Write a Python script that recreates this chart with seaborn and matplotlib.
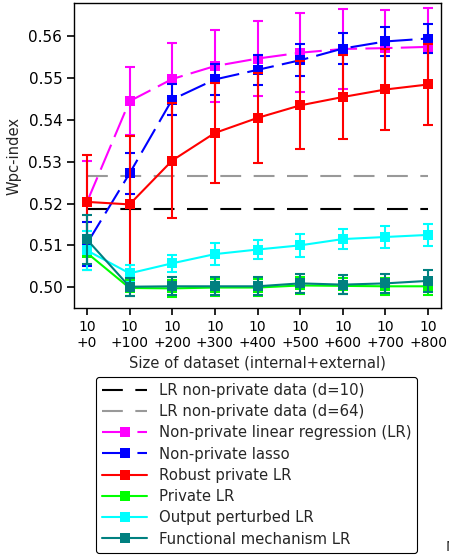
import numpy as np
import pandas as pd
import matplotlib
matplotlib.use("Agg")
import matplotlib.pyplot as plt
import seaborn as sns

# ---- data ----
x_labels = ["10\n+0", "10\n+100", "10\n+200", "10\n+300", "10\n+400",
            "10\n+500", "10\n+600", "10\n+700", "10\n+800"]
lr_d10 = 0.5186
lr_d64 = 0.5265
nonpriv_lr = [0.5203, 0.5445, 0.5498, 0.5529, 0.5547, 0.5561, 0.5570, 0.5572, 0.5575]
nonpriv_lr_err = [0.0100, 0.0082, 0.0087, 0.0087, 0.0090, 0.0095, 0.0095, 0.0092, 0.0093]
lasso = [0.5104, 0.5272, 0.5449, 0.5497, 0.5520, 0.5543, 0.5571, 0.5588, 0.5595]
lasso_err = [0.0053, 0.0050, 0.0037, 0.0038, 0.0036, 0.0038, 0.0038, 0.0035, 0.0035]
robust = [0.5204, 0.5198, 0.5303, 0.5369, 0.5405, 0.5435, 0.5455, 0.5473, 0.5485]
robust_err = [0.0112, 0.0163, 0.0138, 0.0120, 0.0108, 0.0105, 0.0100, 0.0098, 0.0097]
private_lr = [0.5082, 0.4998, 0.4997, 0.4999, 0.4999, 0.5004, 0.5003, 0.5002, 0.5002]
private_lr_err = [0.0040, 0.0020, 0.0020, 0.0020, 0.0020, 0.0020, 0.0020, 0.0020, 0.0020]
output_pert = [0.5088, 0.5033, 0.5057, 0.5079, 0.5090, 0.5100, 0.5115, 0.5120, 0.5125]
output_pert_err = [0.0047, 0.0020, 0.0020, 0.0026, 0.0023, 0.0028, 0.0024, 0.0027, 0.0026]
func_mech = [0.5114, 0.5001, 0.5002, 0.5002, 0.5002, 0.5009, 0.5006, 0.5009, 0.5015]
func_mech_err = [0.0058, 0.0022, 0.0022, 0.0022, 0.0022, 0.0022, 0.0022, 0.0022, 0.0026]

labels = ["LR non-private data (d=10)", "LR non-private data (d=64)",
          "Non-private linear regression (LR)", "Non-private lasso",
          "Robust private LR", "Private LR", "Output perturbed LR",
          "Functional mechanism LR"]

sns.set_style("ticks")
plt.rcParams['font.family'] = ['DejaVu Sans']
plt.rcParams['font.size'] = 10.5

fig = plt.figure(figsize=(4.49, 5.56), dpi=100)
ax = fig.add_axes([0.165, 0.446, 0.817, 0.5486])

xs = np.arange(len(x_labels))

long_dash = (0, (10, 6))
med_dash = (0, (13, 4))

# horizontal reference lines
for val, col, lab in [(lr_d10, "black", labels[0]), (lr_d64, "#999999", labels[1])]:
    sns.lineplot(x=xs, y=[val] * len(xs), ax=ax, color=col, lw=1.5,
                 linestyle=long_dash, label=lab)

series = [
    (nonpriv_lr, nonpriv_lr_err, "#ff00ff", med_dash, labels[2]),
    (lasso, lasso_err, "#0000ff", med_dash, labels[3]),
    (robust, robust_err, "#ff0000", "-", labels[4]),
    (private_lr, private_lr_err, "#00ff00", "-", labels[5]),
    (output_pert, output_pert_err, "#00ffff", "-", labels[6]),
    (func_mech, func_mech_err, "#008080", "-", labels[7]),
]
for vals, errs, col, ls, lab in series:
    ax.errorbar(xs, vals, yerr=errs, fmt="none", ecolor=col, elinewidth=1.5,
                capsize=3.5, capthick=1.5)
    sns.lineplot(x=xs, y=vals, ax=ax, color=col, lw=1.5, linestyle=ls,
                 marker="s", markersize=7, markeredgewidth=0, label=lab)

ax.set_xlim(-0.3, 8.3)
ax.set_ylim(0.495, 0.568)
ax.set_xticks(xs)
ax.set_xticklabels(x_labels)
ax.set_yticks([0.50, 0.51, 0.52, 0.53, 0.54, 0.55, 0.56])
ax.set_yticklabels(["0.50", "0.51", "0.52", "0.53", "0.54", "0.55", "0.56"])
ax.tick_params(axis="both", direction="out", length=5, width=1.2, colors="black")
ax.tick_params(axis="x", labelsize=10)
ax.tick_params(axis="y", labelsize=11)
for sp in ax.spines.values():
    sp.set_color("black")
    sp.set_linewidth(1.0)
ax.set_xlabel("Size of dataset (internal+external)", fontsize=10.6, labelpad=4)
ax.set_ylabel("Wpc-index", fontsize=10.6, labelpad=5)

handles, labs = ax.get_legend_handles_labels()
ax.get_legend().remove()
leg = fig.legend(handles, labs, loc="upper center", bbox_to_anchor=(0.572, 0.322),
                 fontsize=10.7, handlelength=3.0, labelspacing=0.42,
                 frameon=True, fancybox=True,
                 edgecolor="black", framealpha=1, borderaxespad=0)
leg.get_frame().set_linewidth(0.8)

fig.text(0.992, 0.004, "M", fontsize=10, ha="left", va="bottom")

fig.savefig("out.png", dpi=100)
